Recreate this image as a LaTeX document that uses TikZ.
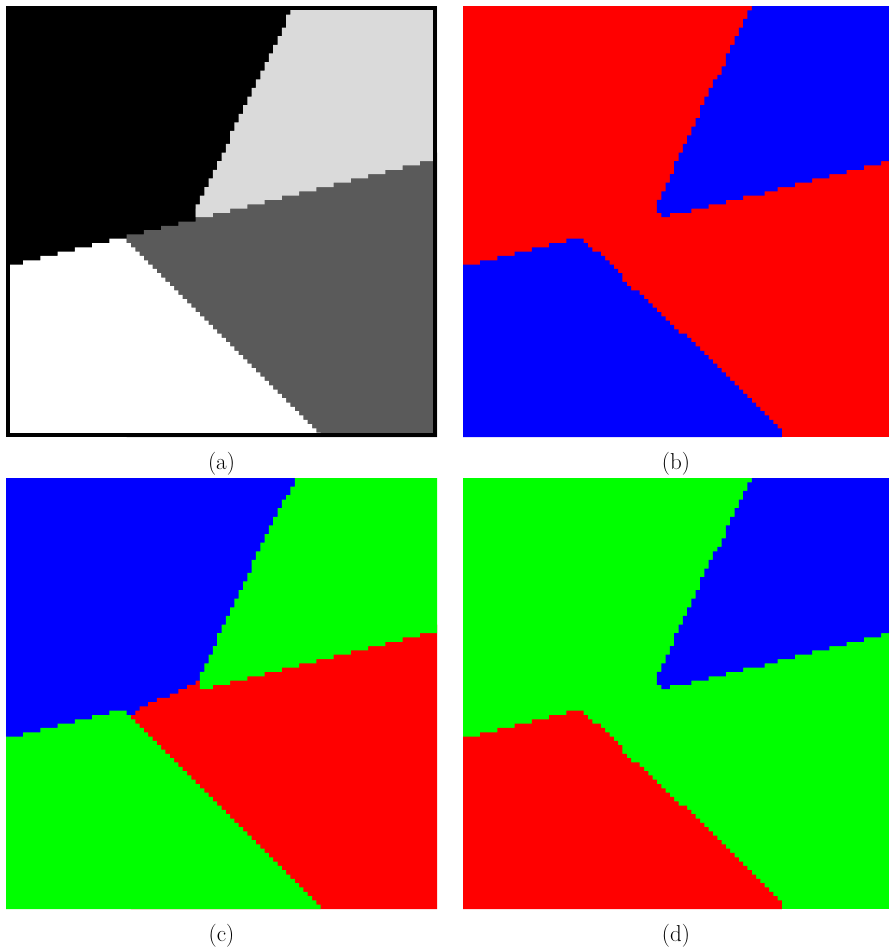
\documentclass[tikz,border=0pt]{standalone}
\definecolor{lgray}{HTML}{DADADA}
\definecolor{dgray}{HTML}{5A5A5A}
\definecolor{pred}{RGB}{255,0,0}
\definecolor{pblue}{RGB}{0,0,255}
\definecolor{pgreen}{RGB}{0,255,0}
\tikzset{
  lab/.style={anchor=base, inner sep=0pt, font=\fontsize{23}{27}\selectfont},
  frameline/.style={draw=black, line width=4pt},
  grid cells/.style={x=4.31pt, y=-4.31pt}
}
% staircase pieces (grid units: 1 = one cell, y downward)
\newcommand\wedgepath{(67,0)
  \foreach \a/\b/\c in {0/0/67,1/2/66,3/4/65,5/6/64,7/8/63,9/10/62,11/13/61,14/15/60,16/16/59,17/18/58,19/20/57,21/22/56,23/25/55,26/27/54,28/29/53,30/31/52,32/33/51,34/35/50,36/38/49,39/40/48,41/42/47,43/44/46,45/47/45}
    { -- (\c,\a) -- (\c,{\b+1}) }
  \foreach \a/\b/\r in {45/45/48,46/47/49,48/52/48,53/56/47,57/60/46,61/64/45,65/69/44,70/72/43,73/76/42,77/80/41,81/84/40,85/88/39,89/92/38,93/96/37,97/99/36}
    { -- (\a,\r) -- ({\b+1},\r) }
  -- (100,0) -- cycle}
\newcommand\footpath{(0,60)
  \foreach \a/\b/\r in {0/3/60,4/7/59,8/11/58,12/15/57,16/19/56,20/23/55,24/27/54,28/28/55,29/29/56,30/31/57,32/32/58,33/33/59,34/34/60,35/35/61,36/36/62,37/37/64,38/38/65,39/40/66,41/41/67,42/42/68,43/43/69,44/44/70,45/45/71,46/46/72,47/47/73,48/48/74,49/49/75,50/51/76}
    { -- (\a,\r) -- ({\b+1},\r) }
  \foreach \c in {52,...,73} { -- (\c,{\c+25}) -- ({\c+1},{\c+25}) }
  -- (74,100) -- (0,100) -- cycle}
\newcommand\lowleftpath{(0,60)
  \foreach \j in {0,...,27} { -- (\j,{60-floor(\j/4)}) -- ({\j+1},{60-floor(\j/4)}) }
  \foreach \i in {54,...,99} { -- ({\i-26},\i) -- ({\i-26},{\i+1}) }
  -- (0,100) -- cycle}
\begin{document}
\begin{tikzpicture}[x=1pt, y=-1pt]
\useasboundingbox (0,0) rectangle (889,948);
\fill[white] (0,0) rectangle (889,948);

% ---------- panel (a) ----------
\begin{scope}[shift={(6pt,-6pt)}, grid cells]
  \clip (0,0) rectangle (100,100);
  \fill[black] (0,0) rectangle (100,100);
  \fill[dgray] (28,53)
    \foreach \j in {28,...,43} { -- (\j,{60-floor(\j/4)}) -- ({\j+1},{60-floor(\j/4)}) }
    \foreach \j in {44,...,99} { -- (\j,{58-floor(\j/4)}) -- ({\j+1},{58-floor(\j/4)}) }
    -- (100,100) -- (28,100) -- cycle;
  \fill[lgray] (66,0)
    \foreach \i in {0,...,48} { -- ({round(max(66.44-0.481*\i,44.2))},\i) -- ({round(max(66.44-0.481*\i,44.2))},{\i+1}) }
    \foreach \j in {44,...,99} { -- (\j,{60-floor(\j/4)}) -- ({\j+1},{60-floor(\j/4)}) }
    -- (100,0) -- cycle;
  \fill[white] \lowleftpath;
\end{scope}
\draw[frameline] (8,8) rectangle (435,435);
\node[lab] (la) at (221.5,469) {(a)};

% ---------- panel (b) ----------
\begin{scope}[shift={(463pt,-6pt)}, grid cells]
  \clip (0,0) rectangle (98.84,100);
  \fill[pred] (0,0) rectangle (100,100);
  \fill[pblue] \wedgepath;
  \fill[pblue] \footpath;
\end{scope}
\node[lab] (lb) at (676,469) {(b)};

% ---------- panel (c) ----------
\begin{scope}[shift={(6pt,-478pt)}, grid cells]
  \clip (0,0) rectangle (100,100);
  \fill[pblue] (0,0) rectangle (100,100);
  \fill[pred] (29,55)
    \foreach \c/\r in {29/55,30/54,31/53,32/53,33/52,34/52,35/51,36/51,37/51,38/50,39/50,40/49,41/49,42/48,43/48,44/47}
      { -- (\c,\r) -- ({\c+1},\r) }
    \foreach \j in {45,...,99} { -- (\j,{58-floor(\j/4)}) -- ({\j+1},{58-floor(\j/4)}) }
    -- (100,100) -- (29,100) -- cycle;
  \fill[pgreen] (67,0)
    \foreach \i in {0,...,48} { -- ({round(max(45,66.31-0.467*\i,67.2-0.56*\i))},\i) -- ({round(max(45,66.31-0.467*\i,67.2-0.56*\i))},{\i+1}) }
    \foreach \j in {45,...,99} { -- (\j,{60-floor(\j/4)}) -- ({\j+1},{60-floor(\j/4)}) }
    -- (100,0) -- cycle;
  \fill[pgreen] \lowleftpath;
\end{scope}
\node[lab] (lc) at (221.5,941) {(c)};

% ---------- panel (d) ----------
\begin{scope}[shift={(463pt,-478pt)}, grid cells]
  \clip (0,0) rectangle (98.84,100);
  \fill[pgreen] (0,0) rectangle (100,100);
  \fill[pblue] \wedgepath;
  \fill[pred] \footpath;
\end{scope}
\node[lab] (ld) at (676,941) {(d)};
\end{tikzpicture}
\end{document}
